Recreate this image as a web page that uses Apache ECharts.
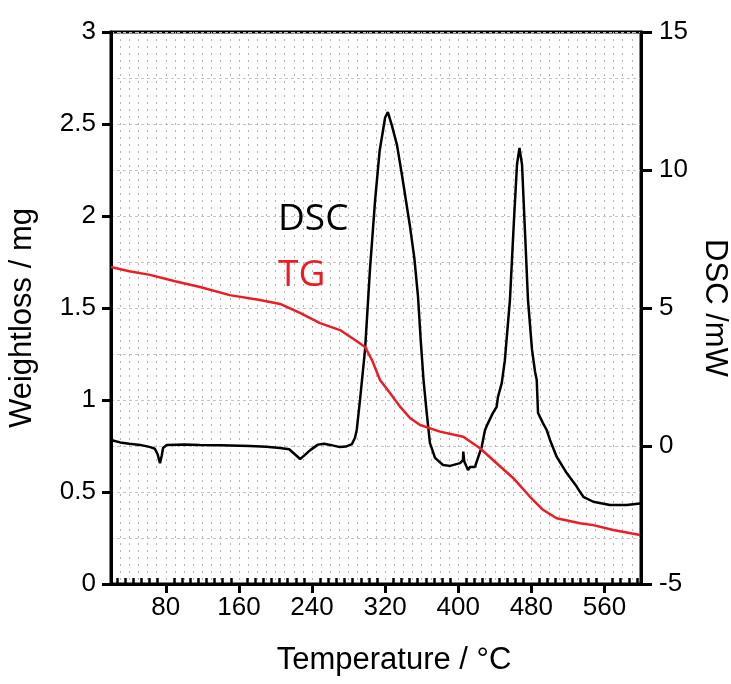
<!DOCTYPE html>
<html>
<head>
<meta charset="utf-8">
<script src="https://cdn.jsdelivr.net/npm/echarts@6/dist/echarts.min.js"></script>
<style>
html,body{margin:0;padding:0;background:#fff;}
#c{width:731px;height:684px;}
</style>
</head>
<body>
<div id="c"></div>
<script>
// Temperature (°C) for DSC samples
var dscTemp = [20,22,30,40,52,63,68,71,73.6,75.5,77,81,100,117,140,172,190,205,215,227,232,238,246.5,253,260,270.6,277,283.7,287,289,292.5,298,303.4,309,314,320,323,327.5,333,338.5,347,352,356,359,362,365.5,369,374.6,383.3,391,402,405.2,405.5,406.5,407.4,410.7,412.9,418.3,421.6,425.7,429.3,432.6,438,442,443.5,447.6,451,456.6,461,464.3,467,469.8,473,476.3,480.7,484,485.9,487.3,492.7,496.8,500.4,507.7,518.7,529.6,533.2,536.9,547.8,566,584.3,598.9];
// DSC signal (mW)
var dscVal = [0.3,0.2,0.13,0.08,0.04,-0.04,-0.1,-0.3,-0.62,-0.35,-0.07,0.04,0.05,0.04,0.03,0.0,-0.03,-0.07,-0.12,-0.47,-0.33,-0.15,0.05,0.08,0.04,-0.04,-0.02,0.07,0.3,0.6,1.67,3.48,6.4,8.9,10.7,11.9,12.1,11.6,10.9,9.8,8.0,6.8,5.4,3.8,2.4,1.2,0.11,-0.43,-0.69,-0.72,-0.62,-0.51,-0.2,-0.55,-0.62,-0.87,-0.76,-0.76,-0.43,-0.03,0.58,0.83,1.2,1.42,1.78,2.28,3.1,5.3,8.2,10.2,10.8,10.2,7.8,5.3,3.5,2.7,2.39,1.2,0.83,0.58,0.22,-0.39,-0.98,-1.47,-1.66,-1.84,-2.02,-2.14,-2.14,-2.08];
// Temperature (°C) for TG samples
var tgTemp = [20,40,62.7,90,117.4,150,183,205,226.8,248.7,270.6,287,298,305.6,314.4,325.3,336.3,347.2,358.2,380,405.5,423.8,442,460.3,478.5,493.1,507.7,533.2,547.8,569.7,598.9];
// Weight (mg)
var tgVal = [1.723,1.70,1.68,1.645,1.614,1.57,1.543,1.522,1.473,1.418,1.38,1.326,1.288,1.217,1.109,1.038,0.964,0.902,0.864,0.828,0.8,0.738,0.656,0.575,0.474,0.402,0.357,0.33,0.32,0.293,0.266];
// Axis tick labels
var xMajorTicks = [80,160,240,320,400,480,560];
var leftTicks = [0,0.5,1,1.5,2,2.5,3];
var rightTicks = [-5,0,5,10,15];

var xMin = 20, xMax = 600;
var minorTicks = [];
var step = 80/9;
for (var v = xMajorTicks[0] - step; v > xMin + 0.5; v -= step) { minorTicks.push(v); }
for (var i = 0; i < xMajorTicks.length; i++) {
  for (var k = 1; k <= 8; k++) {
    var t = xMajorTicks[i] + k*step;
    if (t < xMax - 0.5) minorTicks.push(t);
  }
}

function pairs(xs, ys){ var out=[]; for (var i=0;i<xs.length;i++) out.push([xs[i], ys[i]]); return out; }

var tickFont = 'Liberation Sans';
var nameFont = 'Liberation Sans';
var chart = echarts.init(document.getElementById('c'), null, {renderer:'canvas'});
chart.setOption({
  animation: false,
  backgroundColor: '#fff',
  grid: { left: 111, right: 90, top: 32, bottom: 100, containLabel: false, outerBoundsMode: 'none',
          show: true, borderColor: '#000', borderWidth: 3, backgroundColor: 'transparent' },
  legend: {
    orient: 'vertical', left: 273, top: 201, itemGap: 19, itemWidth: 0, itemHeight: 0, padding: 0,
    selectedMode: false,
    textStyle: { fontFamily: 'Open Sans', fontSize: 37 },
    data: [
      { name: 'DSC', icon: 'none', textStyle: { color: '#000' } },
      { name: 'TG', icon: 'none', textStyle: { color: '#ed1c24' } }
    ]
  },
  xAxis: [
    {
      type: 'value', min: xMin, max: xMax, position: 'bottom',
      name: 'Temperature / °C', nameLocation: 'middle', nameGap: 61,
      nameTextStyle: { fontFamily: nameFont, fontSize: 31, color: '#000', padding: [0,0,0,36] },
      axisLine: { show: true, onZero: false, lineStyle: { color: '#000', width: 3 } },
      axisTick: { show: true, inside: false, length: 9, lineStyle: { width: 3, color: '#000' }, customValues: xMajorTicks },
      axisLabel: { show: true, margin: 11, fontFamily: tickFont, fontSize: 26, color: '#000', customValues: xMajorTicks },
      splitLine: { show: false }
    },
    {
      type: 'value', min: xMin, max: xMax, position: 'bottom',
      axisLine: { show: false, onZero: false },
      axisTick: { show: true, inside: true, length: 6, lineStyle: { width: 2.5, color: '#000' }, customValues: minorTicks },
      axisLabel: { show: false },
      splitLine: { show: false }
    },
    {
      type: 'value', min: xMin, max: xMax, interval: 10, position: 'bottom',
      axisLine: { show: false, onZero: false }, axisTick: { show: false }, axisLabel: { show: false },
      splitLine: { show: true, lineStyle: { color: '#b4b4b4', width: 1, type: [2,5] } }
    }
  ],
  yAxis: [
    {
      type: 'value', min: leftTicks[0], max: leftTicks[leftTicks.length-1], interval: 0.5, position: 'left',
      name: 'Weightloss / mg', nameLocation: 'middle', nameGap: 73, nameRotate: 90,
      nameTextStyle: { fontFamily: nameFont, fontSize: 31, color: '#000', padding: [0,20,0,0] },
      axisLine: { show: true, onZero: false, lineStyle: { color: '#000', width: 3 } },
      axisTick: { show: true, inside: false, length: 9, lineStyle: { width: 3, color: '#000' } },
      axisLabel: { margin: 15, fontFamily: tickFont, fontSize: 26, color: '#000' },
      splitLine: { show: true, lineStyle: { color: '#c4c4c4', width: 1, type: [3,3] } },
      minorTick: { show: false, splitNumber: 2 },
      minorSplitLine: { show: true, lineStyle: { color: '#c4c4c4', width: 1, type: [3,3] } }
    },
    {
      type: 'value', min: rightTicks[0], max: rightTicks[rightTicks.length-1], interval: 5, position: 'right',
      name: 'DSC /mW', nameLocation: 'middle', nameGap: 55, nameRotate: -90,
      nameTextStyle: { fontFamily: nameFont, fontSize: 31, color: '#000' },
      axisLine: { show: true, onZero: false, lineStyle: { color: '#000', width: 3 } },
      axisTick: { show: true, inside: false, length: 11, lineStyle: { width: 3, color: '#000' } },
      axisLabel: { margin: 18, fontFamily: tickFont, fontSize: 26, color: '#000' },
      splitLine: { show: false }
    }
  ],
  series: [
    {
      name: 'DSC', type: 'line', xAxisIndex: 0, yAxisIndex: 1, data: pairs(dscTemp, dscVal),
      showSymbol: false, symbol: 'none', smooth: false,
      lineStyle: { color: '#000', width: 2.5 }, itemStyle: { color: '#000' }, z: 3
    },
    {
      name: 'TG', type: 'line', xAxisIndex: 0, yAxisIndex: 0, data: pairs(tgTemp, tgVal),
      showSymbol: false, symbol: 'none', smooth: false,
      lineStyle: { color: '#ed1c24', width: 2.5 }, itemStyle: { color: '#ed1c24' }, z: 4
    }
  ]
});
</script>
</body>
</html>
